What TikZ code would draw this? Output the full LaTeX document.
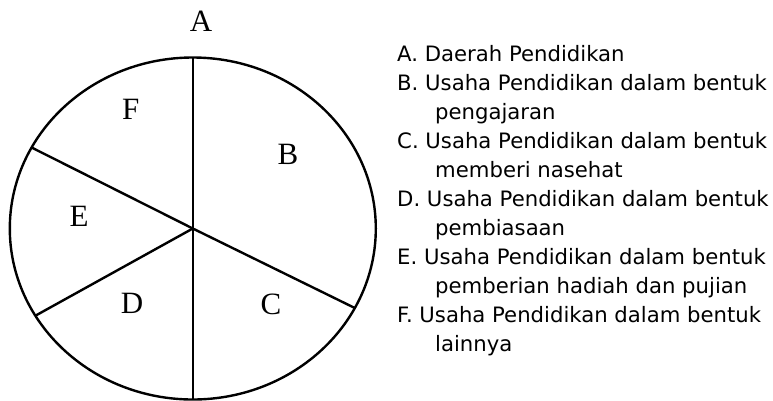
\documentclass[tikz,border=0pt]{standalone}
\usepackage{fontspec}
\setmainfont{Liberation Serif}
\newfontfamily\legendfont{DejaVu Sans}
\begin{document}
\begin{tikzpicture}[x=1pt,y=-1pt,
  pieline/.style={line width=2.4pt,black},
  sector/.style={font=\fontsize{31}{37}\selectfont,inner sep=0pt},
  legitem/.style={font=\legendfont\fontsize{21.2}{25}\selectfont,anchor=base west,inner sep=0pt}]
\useasboundingbox (0,0) rectangle (773,400);
% pie
\coordinate (O) at (192.8,228.5);
\coordinate (T) at (192.8,57.5);
\coordinate (Bt) at (192.8,399.5);
\coordinate (UL) at (31.6,147.5);
\coordinate (LR) at (354.8,308);
\coordinate (LL) at (35.4,315.7);
\draw[pieline] (O) ellipse [x radius=183, y radius=171];
\draw[pieline] (T) -- (Bt);
\draw[pieline] (UL) -- (O) -- (LR);
\draw[pieline] (O) -- (LL);
% sector labels
\node[sector] (lA) at (201,21) {A};
\node[sector] (lF) at (130.7,109) {F};
\node[sector] (lB) at (288,154) {B};
\node[sector] (lE) at (79,216) {E};
\node[sector] (lD) at (132,303) {D};
\node[sector] (lC) at (271,304) {C};
% legend
\node[legitem] (gA) at (397,61) {A. Daerah Pendidikan};
\node[legitem] (gB) at (397,90) {B. Usaha Pendidikan dalam bentuk};
\node[legitem] (gB2) at (435,119) {pengajaran};
\node[legitem] (gC) at (397,148) {C. Usaha Pendidikan dalam bentuk};
\node[legitem] (gC2) at (435,177) {memberi nasehat};
\node[legitem] (gD) at (397,206) {D. Usaha Pendidikan dalam bentuk};
\node[legitem] (gD2) at (435,235) {pembiasaan};
\node[legitem] (gE) at (397,264) {E. Usaha Pendidikan dalam bentuk};
\node[legitem] (gE2) at (435,293) {pemberian hadiah dan pujian};
\node[legitem] (gF) at (397,322) {F. Usaha Pendidikan dalam bentuk};
\node[legitem] (gF2) at (435,351) {lainnya};
\end{tikzpicture}
\end{document}
